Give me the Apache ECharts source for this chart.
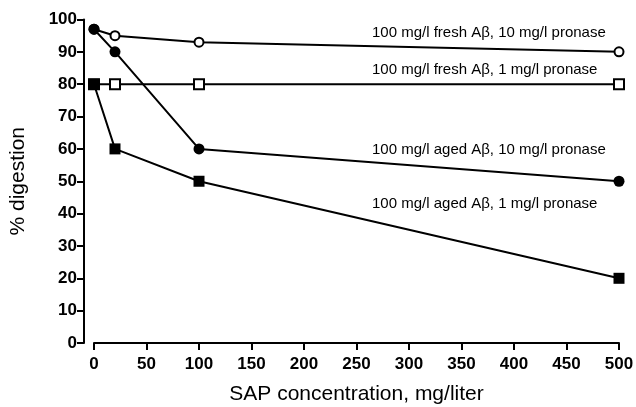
<!DOCTYPE html>
<html lang="en">

<head>
  <meta charset="UTF-8">
  <title>SAP digestion</title>
  <style>
    html, body { margin: 0; padding: 0; background: #fff; }
  </style>
</head>

<body>
  <div id="main" style="width: 636px; height: 407px"></div>

  <script src="https://cdn.jsdelivr.net/npm/echarts@6/dist/echarts.min.js"></script>

  <script>
    // SAP concentration, mg/liter
    var sapConc = [0, 20, 100, 500]

    // % digestion per condition
    var freshHigh = [97, 95, 93, 90]   // 100 mg/l fresh Aβ, 10 mg/l pronase
    var freshLow = [80, 80, 80, 80]    // 100 mg/l fresh Aβ, 1 mg/l pronase
    var agedHigh = [97, 90, 60, 50]    // 100 mg/l aged Aβ, 10 mg/l pronase
    var agedLow = [80, 60, 50, 20]     // 100 mg/l aged Aβ, 1 mg/l pronase

    var seriesNames = [
      '100 mg/l fresh Aβ, 10 mg/l pronase',
      '100 mg/l fresh Aβ, 1 mg/l pronase',
      '100 mg/l aged Aβ, 10 mg/l pronase',
      '100 mg/l aged Aβ, 1 mg/l pronase'
    ]

    function pairs(ys) {
      return sapConc.map(function (x, i) { return [x, ys[i]] })
    }

    var font = '"Liberation Sans", Arial, sans-serif'

    function makeSeries(name, ys, symbol, size, filled, z) {
      return {
        name: name,
        type: 'line',
        data: pairs(ys),
        symbol: symbol,
        symbolSize: size,
        showAllSymbol: true,
        z: z,
        lineStyle: { color: '#000', width: 2 },
        itemStyle: {
          color: filled ? '#000' : '#fff',
          borderColor: '#000',
          borderWidth: filled ? 0 : 2
        },
        emphasis: { disabled: true }
      }
    }

    var myChart = echarts.init(document.getElementById('main'))

    var option = {
      animation: false,
      backgroundColor: '#fff',
      textStyle: { fontFamily: font },
      grid: { left: 94, right: 17, top: 19.5, bottom: 64, containLabel: false, outerBoundsMode: 'none' },
      xAxis: {
        type: 'value',
        min: 0,
        max: 500,
        interval: 50,
        name: 'SAP concentration, mg/liter',
        nameLocation: 'middle',
        nameGap: 41,
        nameTextStyle: { color: '#000', fontSize: 21, fontFamily: font },
        axisLine: { show: true, onZero: false, lineStyle: { color: '#000', width: 2 } },
        axisTick: { show: true, inside: false, length: 7, lineStyle: { color: '#000', width: 2 } },
        axisLabel: { color: '#000', fontSize: 17, fontWeight: 'bold', margin: 13, fontFamily: font },
        splitLine: { show: false }
      },
      yAxis: {
        type: 'value',
        min: 0,
        max: 100,
        interval: 10,
        offset: 10,
        name: '% digestion',
        nameLocation: 'middle',
        nameGap: 55,
        nameRotate: 90,
        nameTextStyle: { color: '#000', fontSize: 21, fontFamily: font },
        axisLine: { show: true, onZero: false, lineStyle: { color: '#000', width: 2 } },
        axisTick: { show: true, inside: false, length: 7, lineStyle: { color: '#000', width: 2 } },
        axisLabel: { color: '#000', fontSize: 17, fontWeight: 'bold', margin: 7, fontFamily: font },
        splitLine: { show: false }
      },
      series: [
        makeSeries(seriesNames[0], freshHigh, 'circle', 9, false, 2),
        makeSeries(seriesNames[1], freshLow, 'rect', 10, false, 2),
        makeSeries(seriesNames[2], agedHigh, 'circle', 11, true, 3),
        makeSeries(seriesNames[3], agedLow, 'rect', 11, true, 3)
      ],
      // curve labels, placed beside each line
      graphic: [
        { type: 'text', x: 372, y: 33, style: { text: seriesNames[0], fill: '#000', font: '15px ' + font, textVerticalAlign: 'middle' } },
        { type: 'text', x: 372, y: 70, style: { text: seriesNames[1], fill: '#000', font: '15px ' + font, textVerticalAlign: 'middle' } },
        { type: 'text', x: 372, y: 150, style: { text: seriesNames[2], fill: '#000', font: '15px ' + font, textVerticalAlign: 'middle' } },
        { type: 'text', x: 372, y: 204, style: { text: seriesNames[3], fill: '#000', font: '15px ' + font, textVerticalAlign: 'middle' } }
      ]
    }

    myChart.setOption(option)
  </script>
</body>

</html>
